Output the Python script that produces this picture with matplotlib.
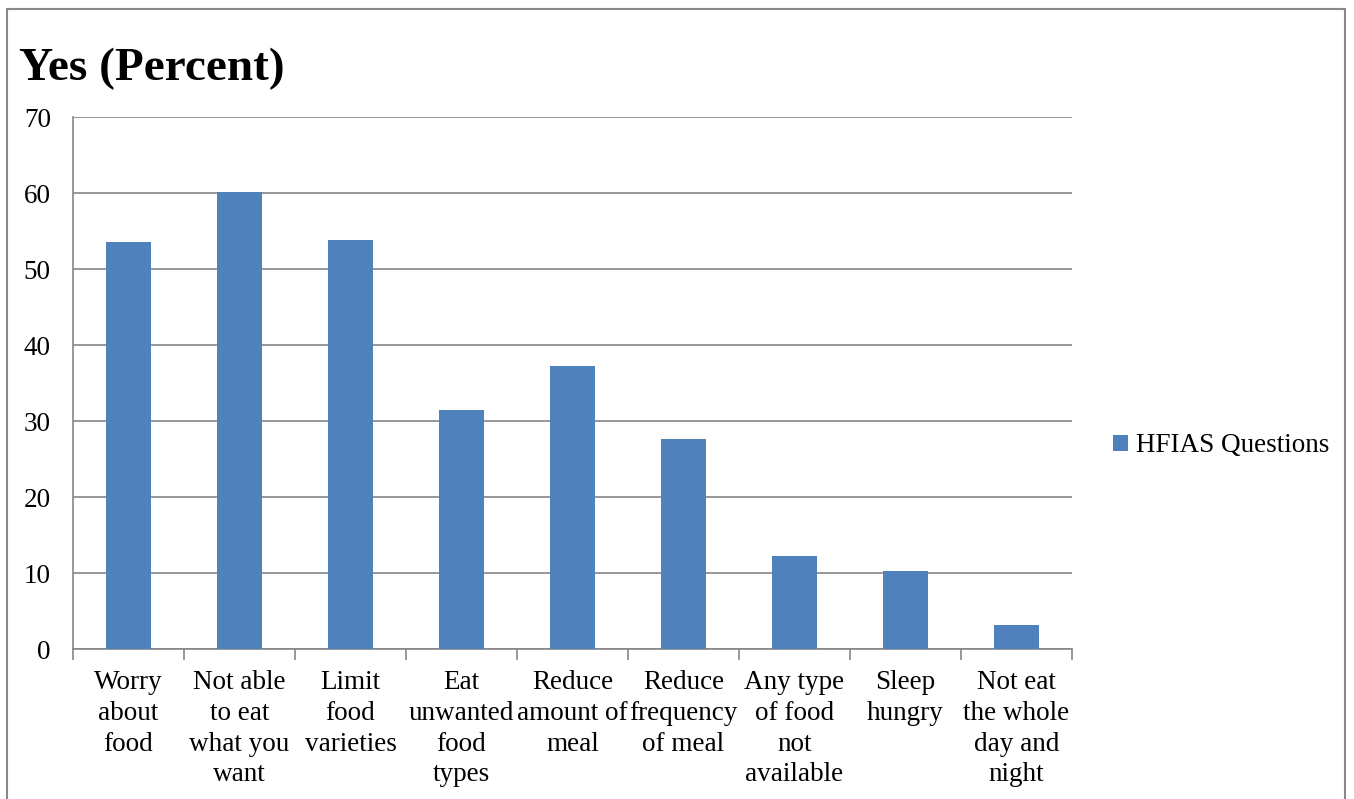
import matplotlib.pyplot as plt
from matplotlib.patches import Rectangle

# Dados do gráfico
categorias = ['Worry\nabout\nfood', 'Not able\nto eat\nwhat you\nwant', 'Limit\nfood\nvarieties',
              'Eat\nunwanted\nfood\ntypes', 'Reduce\namount of\nmeal', 'Reduce\nfrequency\nof meal',
              'Any type\nof food\nnot\navailable', 'Sleep\nhungry', 'Not eat\nthe whole\nday and\nnight']
valores = [53.6, 60.1, 53.8, 31.4, 37.2, 27.6, 12.3, 10.3, 3.2]
serie = 'HFIAS Questions'

plt.rcParams['font.family'] = ['Liberation Serif', 'DejaVu Serif']

fig = plt.figure(figsize=(13.54, 7.99), dpi=100)
ax = fig.add_axes([0.0539, 0.1877, 0.7378, 0.6658])

x = range(len(categorias))
ax.bar(x, valores, width=0.4, color='#4F81BD', label=serie, zorder=3)

ax.set_xlim(-0.5, len(categorias) - 0.5)
ax.set_ylim(0, 70)
ax.set_yticks(range(0, 71, 10))
ax.tick_params(axis='y', length=0, labelsize=19.5, pad=16)
ax.grid(axis='y', color='#868686', linewidth=1.2, zorder=0)

# ticks do eixo x nas divisões das categorias
ax.set_xticks([i - 0.5 for i in range(len(categorias) + 1)])
ax.set_xticklabels([])
ax.tick_params(axis='x', length=8, width=1.2, color='#868686')
for i, cat in enumerate(categorias):
    ax.text(i, -2.8, cat, ha='center', va='top', fontsize=19.5, linespacing=1.3)

for lado in ['top', 'right']:
    ax.spines[lado].set_visible(False)
for lado in ['left', 'bottom']:
    ax.spines[lado].set_color('#868686')
    ax.spines[lado].set_linewidth(1.2)

fig.text(19 / 1354, 1 - 80 / 799, 'Yes (Percent)', fontsize=34, fontweight='bold', ha='left', va='baseline')

fig.legend(loc='center left', bbox_to_anchor=(1089 / 1354, 1 - 446 / 799), frameon=False,
           fontsize=19.5, handlelength=0.55, handleheight=0.55, handletextpad=0.3)

# borda do gráfico
fig.patches.append(Rectangle((7 / 1354, -0.05), 1338 / 1354, 1.05 - 9 / 799, transform=fig.transFigure,
                             fill=False, edgecolor='#898989', linewidth=1.5))

plt.savefig('out.png', dpi=100)
